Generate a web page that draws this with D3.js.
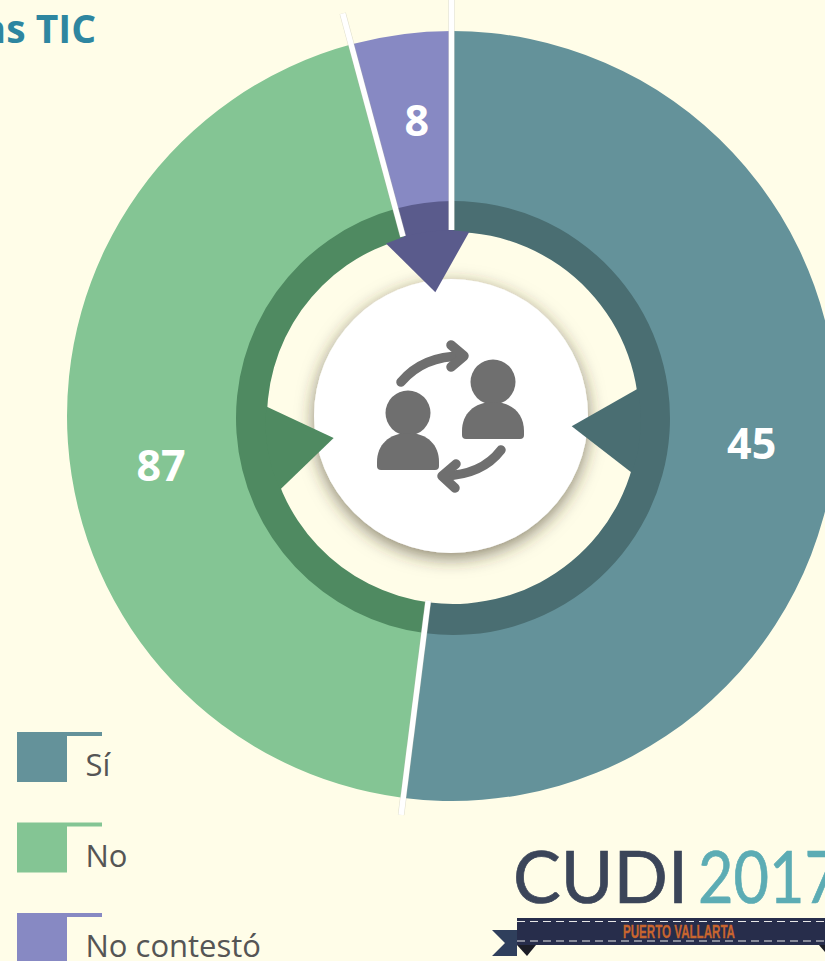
<!DOCTYPE html>
<html lang="es">
<head>
<meta charset="utf-8">
<script src="https://cdn.jsdelivr.net/npm/d3@7/dist/d3.min.js"></script>
<style>
html,body{margin:0;padding:0;background:#fffde8;overflow:hidden}
svg{display:block}
</style>
</head>
<body>
<svg id="chart" width="825" height="961"></svg>
<script>
const categories = ["Sí", "No", "No contestó"];
const printedValues = [45, 87, 8];
const drawnShares = [52, 43.8, 4.2];          // slice sizes as drawn in the picture (%)
const pointerAngles = [94, 260.5, 352];       // degrees clockwise from 12 o'clock
const pointerTipRadii = [119, 121, 127];
const labelAngles = [95.3, 260.4, 353.2];
const labelRadii = [301, 295, 298];
const dividerOuterRadii = [402, 417, 440];
const sliceColors = ["#64929a", "#84c594", "#8789c3"];
const ringColors = ["#4a6e72", "#4f8a61", "#5a5b8c"];
const titleText = "as TIC";
const logoName = "CUDI";
const logoYear = "2017";
const logoPlace = "PUERTO VALLARTA";

const svg = d3.select("#chart");
const W = 825, H = 961;
svg.append("rect").attr("width", W).attr("height", H).attr("fill", "#fffde8");

const defs = svg.append("defs");
const shadow = defs.append("filter").attr("id", "shadow")
  .attr("x", "-30%").attr("y", "-30%").attr("width", "160%").attr("height", "160%");
shadow.append("feDropShadow").attr("dx", 0).attr("dy", 5).attr("stdDeviation", 9)
  .attr("flood-color", "#3a3320").attr("flood-opacity", 0.6);

const rad = d3.scaleLinear().domain([0, 360]).range([0, 2 * Math.PI]);
const pie = d3.pie().sort(null).value(d => d)(drawnShares);
const cx = 452, cy = 416, rx = 453, ry = 418;
const polar = (r, deg) => d3.pointRadial(rad(deg), r);

// outer donut
const outer = svg.append("g").attr("transform", `translate(${cx},${cy})`);
const outerArc = d3.arc().innerRadius(200).outerRadius(385);
outer.selectAll("path").data(pie).join("path")
  .attr("d", outerArc).attr("fill", (d, i) => sliceColors[i]);

// darker inner ring
const ring = svg.append("g").attr("transform", `translate(${rx},${ry})`);
const ringArc = d3.arc().innerRadius(186).outerRadius(217);
ring.selectAll("path.ring").data(pie).join("path").attr("class", "ring")
  .attr("d", ringArc).attr("fill", (d, i) => ringColors[i]);

// centre disc
svg.append("circle").attr("cx", 451).attr("cy", 416).attr("r", 137)
  .attr("fill", "#fff").attr("filter", "url(#shadow)");

// pointers, on top of the disc; the base follows the ring's curve so no seam shows
const pointers = svg.append("g").attr("transform", `translate(${rx},${ry})`);
pointers.selectAll("path.pointer").data(pie).join("path").attr("class", "pointer")
  .attr("fill", (d, i) => ringColors[i])
  .attr("d", (d, i) => {
    const a = pointerAngles[i];
    return d3.line()([
      polar(187, a - 13), polar(pointerTipRadii[i], a), polar(187, a + 13),
      polar(188, a + 6.5), polar(188, a), polar(188, a - 6.5)
    ]) + "Z";
  });

// white dividers between slices
const dividers = svg.append("g").attr("transform", `translate(${cx - 0.5},${cy})`);
const dividerPath = (d, i) => {
  const a = d.endAngle * 180 / Math.PI;
  return d3.line()([polar(186, a), polar(dividerOuterRadii[i], a)]);
};
dividers.selectAll("path.edge").data(pie).join("path").attr("class", "edge")
  .attr("d", dividerPath).attr("stroke", "#b9b8a8").attr("stroke-width", 6.500).attr("fill", "none").attr("opacity", 0.45);
dividers.selectAll("path.line").data(pie).join("path").attr("class", "line")
  .attr("d", dividerPath).attr("stroke", "#fff").attr("stroke-width", 5.500).attr("fill", "none");

// value labels
const labelFont = "'Open Sans', sans-serif";
outer.selectAll("text").data(pie).join("text")
  .attr("transform", (d, i) => `translate(${polar(labelRadii[i], labelAngles[i])})`)
  .attr("text-anchor", "middle").attr("dy", "0.36em")
  .attr("font-family", labelFont).attr("font-weight", 700).attr("font-size", 43)
  .attr("fill", "#fff").text((d, i) => printedValues[i]);

// icon
const icon = svg.append("g").attr("fill", "#6f6f6f");
const person = (x, y) => {
  icon.append("circle").attr("cx", x).attr("cy", y).attr("r", 22.5);
  icon.append("path").attr("d",
    `M${x - 27},${y + 57} a4,4 0 0 1 -4,-4 v-4 c0,-17 12,-29 31,-29 c19.500,0 31,12 31,29 v4 a4,4 0 0 1 -4,4 Z`);
};
person(493, 382);
person(408, 413);
const arrows = svg.append("g").attr("fill", "none").attr("stroke", "#6f6f6f")
  .attr("stroke-width", 9.500).attr("stroke-linecap", "round").attr("stroke-linejoin", "round");
arrows.append("path").attr("d", "M401,382 Q423,356 462,356");
arrows.append("path").attr("d", "M451,345 L464,356 L451,367");
arrows.append("path").attr("d", "M501,450 Q482,475 443,476");
arrows.append("path").attr("d", "M456,464 L442,476 L455,488");

// title
svg.append("text").attr("x", 96).attr("y", 43).attr("text-anchor", "end")
  .attr("font-family", labelFont).attr("font-weight", 700).attr("font-size", 39)
  .attr("fill", "#2e86a0").text(titleText);

// legend
const legendY = d3.scalePoint().domain(categories).range([732, 913]);
const legend = svg.selectAll("g.legend").data(categories).join("g").attr("class", "legend")
  .attr("transform", d => `translate(17,${legendY(d)})`);
legend.append("path").attr("d", "M0,0 H85 V4 H50 V50 H0 Z").attr("fill", (d, i) => sliceColors[i]);
legend.append("text").attr("x", 68.500).attr("y", 44)
  .attr("font-family", labelFont).attr("font-size", 31).attr("fill", "#555")
  .text(d => d);

// logo
const logo = svg.append("g");
logo.append("text").attr("x", 513).attr("y", 903).attr("textLength", 175).attr("lengthAdjust", "spacingAndGlyphs")
  .attr("font-family", "Lato, sans-serif").attr("font-size", 72).attr("fill", "#3b4559")
  .attr("stroke", "#3b4559").attr("stroke-width", 0.7).text(logoName);
logo.append("text").attr("x", 698).attr("y", 903).attr("textLength", 142).attr("lengthAdjust", "spacingAndGlyphs")
  .attr("font-family", "Lato, sans-serif").attr("font-size", 72).attr("fill", "#5cacb4")
  .attr("stroke", "#5cacb4").attr("stroke-width", 0.7).text(logoYear);
logo.append("path").attr("d", "M492,930 H517 V956 H492 L505,943 Z").attr("fill", "#2f3f5c");
logo.append("path").attr("d", "M517,945 H536 L527,956 Z").attr("fill", "#1c1d26");
logo.append("path").attr("d", "M819,945 H831 L825,952 Z").attr("fill", "#1c1d26");
logo.append("rect").attr("x", 517).attr("y", 918).attr("width", 308).attr("height", 27).attr("fill", "#272d4b");
[921.500, 941].forEach(y => logo.append("line").attr("x1", 517).attr("x2", 825).attr("y1", y).attr("y2", y)
  .attr("stroke", "#e8e8e8").attr("stroke-width", 1).attr("stroke-dasharray", "8 5"));
logo.append("text").attr("x", 623).attr("y", 938).attr("textLength", 112).attr("lengthAdjust", "spacingAndGlyphs")
  .attr("font-family", "'Liberation Sans Narrow', sans-serif").attr("font-weight", 700).attr("font-size", 18.500)
  .attr("fill", "#c8652f").attr("stroke", "#c8652f").attr("stroke-width", 0.3).text(logoPlace);
</script>
</body>
</html>
